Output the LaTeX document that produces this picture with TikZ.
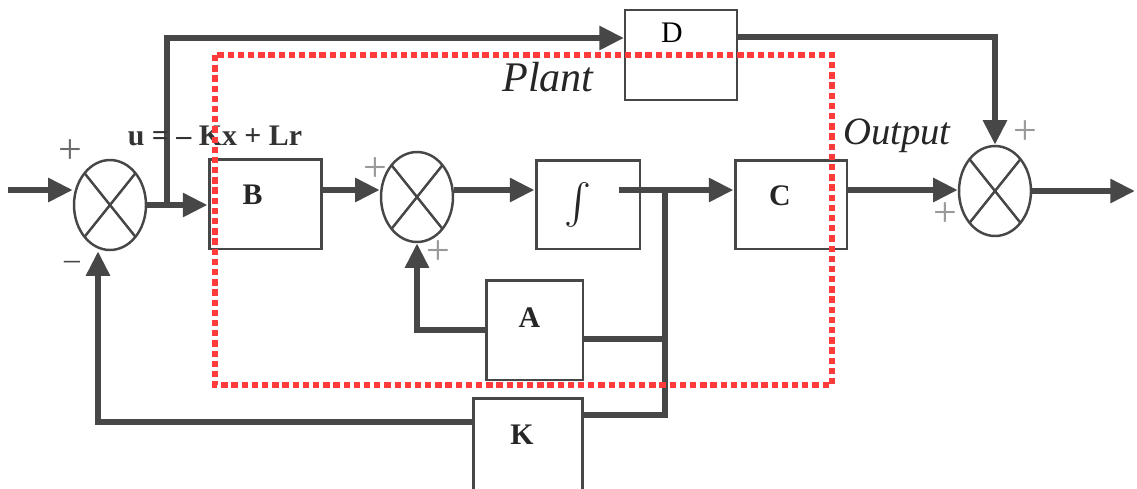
\documentclass[tikz,border=0pt]{standalone}
\usepackage{fontspec}
\setmainfont{Liberation Serif}
\usetikzlibrary{shapes.geometric,arrows.meta,calc}

\definecolor{wire}{HTML}{474747}
\definecolor{plantred}{HTML}{FF3B3B}

\begin{document}
\begin{tikzpicture}[x=0.02cm, y=-0.02cm,
  box/.style={rectangle, draw=wire, line width=1.7pt, inner sep=0pt},
  lbl/.style={font=\fontsize{17}{17}\selectfont\bfseries, text=black!85},
  sumx/.style={ellipse, draw=wire, line width=1.4pt, inner sep=0pt,
    minimum width=1.44cm, minimum height=1.8cm,
    path picture={\draw[wire, line width=1.4pt]
      (path picture bounding box.north west) -- (path picture bounding box.south east)
      (path picture bounding box.south west) -- (path picture bounding box.north east);}},
  line/.style={draw=wire, line width=3.4pt},
  arr/.style={line, -{Triangle[length=14pt,width=13pt]}},
  sgn/.style={font=\fontsize{24}{24}\selectfont, text=gray!80},
  ital/.style={font=\fontsize{24}{24}\selectfont\itshape, text=black!85}
]
\useasboundingbox (0,0) rectangle (1137,488);

\node[sumx] (s1) at (110,205) {};
\node[sumx] (s2) at (417,197) {};
\node[sumx] (s3) at (995,191) {};

\node[box, minimum width=2.26cm, minimum height=1.8cm,
  label={[lbl, shift={(-13,-9)}]center:B}] (B) at (265.5,204) {};
\node[box, minimum width=2.08cm, minimum height=1.78cm,
  label={[text=black!85, shift={(-10,0)}]center:\scalebox{2.3}{$\int$}}] (I) at (588,204.5) {};
\node[box, minimum width=2.24cm, minimum height=1.78cm,
  label={[lbl, shift={(-11,-9)}]center:C}] (C) at (791,204.5) {};
\node[box, minimum width=1.94cm, minimum height=2cm,
  label={[lbl, shift={(-5,-12)}]center:A}] (A) at (534.5,330) {};
\node[box, minimum width=2.2cm, minimum height=1.84cm,
  label={[lbl, shift={(-6,-9)}]center:K}] (K) at (528,444) {};
\node[box, line width=1.1pt, minimum width=2.24cm, minimum height=1.8cm,
  label={[font=\fontsize{17}{17}\selectfont, shift={(-9,-22)}]center:D}] (D) at (681,55) {};

\coordinate (src) at (8,190);
\coordinate (out) at (1135,191);
\coordinate (jD) at (167,205);
\coordinate (jx) at (665,190);

\draw[arr] (src) -- (src -| s1.west);
\draw[line] (s1.east) -- (jD);
\draw[arr] (jD) -- (jD -| B.west);
\draw[arr] (jD) |- ([yshift=0.34cm]D.west);
\draw[arr] (B.east |- src) -- (src -| s2.west);
\draw[arr] (s2.east |- src) -- (src -| I.west);
\draw[line] (I.east |- src) ++(-22,0) -- (jx);
\draw[arr] (jx) -- (jx -| C.west);
\draw[arr] (C.east |- src) -- (src -| s3.west);
\draw[arr] (s3.east) -- (out);
\draw[arr] ([yshift=0.36cm]D.east) -| (s3.north);
\draw[line] (jx) |- ([yshift=0.58cm]K.east);
\draw[line] ([yshift=-0.18cm]A.east) -| (jx);
\draw[arr] (A.west) -| (s2.south);
\draw[arr] ([yshift=0.44cm]K.west) -| ([xshift=-0.24cm]s1.south);

\node[sgn, text=wire!80] (p1) at (70,152) {+};
\node[font=\fontsize{18}{18}\selectfont, text=wire] (m1) at (72,265) {–};
\node[sgn] (p2) at (375,170) {+};
\node[sgn] (p3) at (438,253) {+};
\node[sgn] (p4) at (1025,133) {+};
\node[sgn] (p5) at (945,215) {+};

\node[font=\fontsize{17}{17}\selectfont\bfseries, text=black!80] (ulaw) at (215,136) {u = – Kx + Lr};
\node[ital] (plant) at (548,77) {Plant};
\node[ital, font=\fontsize{22}{22}\selectfont\itshape] (outlbl) at (897,136) {Output};

\draw[plantred, line width=3.2pt, dash pattern=on 3.6pt off 2.2pt] (215,55) rectangle (832,385);
\end{tikzpicture}
\end{document}
